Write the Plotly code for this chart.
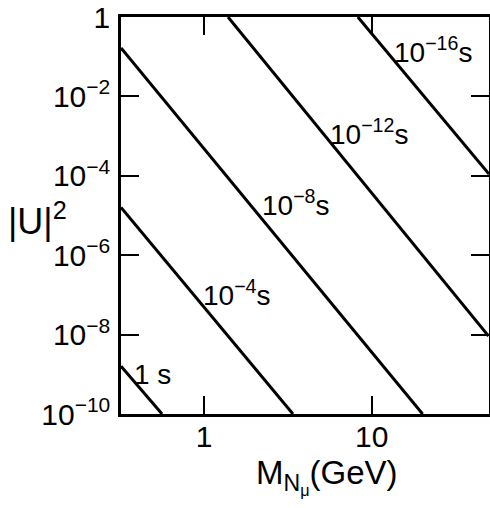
import math
import plotly.graph_objects as go

# Lifetime contours: endpoints
lifetime_labels = ["1 s", "10<sup>−4</sup>s", "10<sup>−8</sup>s", "10<sup>−12</sup>s", "10<sup>−16</sup>s"]
mass_start = [0.32, 0.32, 0.32, 1.39, 8.26]
u2_start = [1.6e-9, 1.6e-5, 0.166, 1.0, 1.0]
mass_end = [0.562, 3.39, 20.1, 49.7, 50.0]
u2_end = [1e-10, 1e-10, 1e-10, 9.2e-9, 1.1e-4]

# label anchor positions (data units)
label_mass = [0.49, 1.57, 3.53, 9.6, 23.1]
label_u2 = [1.0e-9, 1.1e-7, 2.1e-5, 1.26e-3, 0.148]

x_tickvals = [1, 10]
x_ticktext = ["1", "10"]
y_tickvals = [1, 1e-2, 1e-4, 1e-6, 1e-8, 1e-10]
y_ticktext = ["1", "10<sup>−2</sup>", "10<sup>−4</sup>", "10<sup>−6</sup>",
              "10<sup>−8</sup>", "10<sup>−10</sup>"]

FONT = "Liberation Sans"

fig = go.Figure()
for i in range(len(lifetime_labels)):
    fig.add_trace(go.Scatter(
        x=[mass_start[i], mass_end[i]], y=[u2_start[i], u2_end[i]],
        mode="lines", line=dict(color="black", width=3),
        showlegend=False, hoverinfo="skip"))

for i, lab in enumerate(lifetime_labels):
    fig.add_annotation(x=math.log10(label_mass[i]), y=math.log10(label_u2[i]),
                       xref="x", yref="y", text=lab, showarrow=False,
                       font=dict(family=FONT, size=28, color="black"),
                       xanchor="center", yanchor="middle")

# axis titles as annotations
fig.add_annotation(xref="paper", yref="paper", x=-0.312, y=0.49,
                   text="|U|<sup>2</sup>", showarrow=False,
                   font=dict(family=FONT, size=36, color="black"),
                   xanchor="left", yanchor="middle")
fig.add_annotation(xref="paper", yref="paper", x=0.56, y=-0.158,
                   text="M<sub>N<sub>μ</sub></sub>(GeV)", showarrow=False,
                   font=dict(family=FONT, size=33, color="black"),
                   xanchor="center", yanchor="middle")

axis_common = dict(showline=True, linewidth=2.5, linecolor="black", mirror="ticks",
                   ticks="inside", ticklen=18, tickwidth=2, tickcolor="black",
                   showgrid=False, zeroline=False, automargin=False,
                   tickfont=dict(family=FONT, size=30, color="black"))

fig.update_xaxes(type="log", range=[-0.495, 1.699], tickmode="array",
                 tickvals=x_tickvals, ticktext=x_ticktext, ticklabelstandoff=-6,
                 **axis_common)
fig.update_yaxes(type="log", range=[-10, 0], tickmode="array",
                 tickvals=y_tickvals, ticktext=y_ticktext, ticklabelstandoff=2,
                 **axis_common)

fig.update_layout(width=490, height=508,
                  margin=dict(l=121, r=1, t=17, b=94),
                  paper_bgcolor="white", plot_bgcolor="white")

fig.write_html("out.html", config={"displayModeBar": False},
               post_script="document.body.style.margin='0';document.body.style.padding='0';")
